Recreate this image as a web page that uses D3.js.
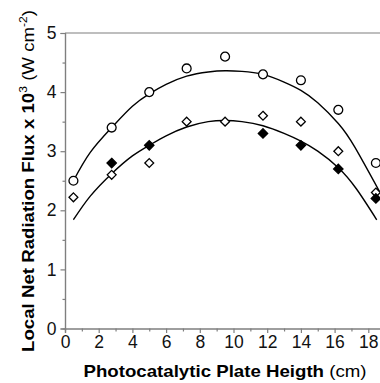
<!DOCTYPE html>
<html>
<head>
<meta charset="utf-8">
<script src="https://cdn.jsdelivr.net/npm/d3@7"></script>
<style>
  body { margin: 0; background: #fff; }
  svg { display: block; }
  text { font-family: "Liberation Sans", Arial, sans-serif; }
</style>
</head>
<body>
<div id="chart"></div>
<script>
// plate heights (cm) where the flux was measured
const heights = [0.5, 2.77, 5, 7.22, 9.5, 11.75, 14, 16.22, 18.45]

// open circles
const circleFlux = [2.5, 3.4, 4.0, 4.4, 4.6, 4.3, 4.2, 3.7, 2.8]
// open diamonds
const openDiamondFlux = [2.22, 2.6, 2.8, 3.5, 3.5, 3.6, 3.5, 3.0, 2.3]
// filled diamonds (only the visible ones)
const filledHeights = [2.77, 5, 11.75, 14, 16.22, 18.45]
const filledDiamondFlux = [2.8, 3.1, 3.3, 3.1, 2.7, 2.2]

// fitted curves
const upperFitX = [0.5, 1.5, 2.77, 4, 5, 6, 7.22, 8.5, 9.5, 10.5, 11.75, 13, 14, 15, 16.22, 17.2, 18.7]
const upperFitY = [2.5, 2.98, 3.4, 3.76, 3.97, 4.13, 4.27, 4.34, 4.36, 4.35, 4.3, 4.17, 4.03, 3.82, 3.47, 3.07, 2.3]
const lowerFitX = [0.5, 1.5, 2.77, 4, 5, 6, 7.22, 8.5, 9.5, 10.5, 11.75, 13, 14, 15, 16.22, 17.3, 18.5]
const lowerFitY = [1.84, 2.24, 2.62, 2.92, 3.1, 3.26, 3.41, 3.5, 3.52, 3.5, 3.43, 3.3, 3.17, 3.0, 2.72, 2.36, 1.84]

const xTicks = [0, 2, 4, 6, 8, 10, 12, 14, 16, 18]
const yTicks = [0, 1, 2, 3, 4, 5]

const width = 380
const height = 383
const marginLeft = 65, plotTop = 33, plotBottom = 328.5

const svg = d3.select("#chart")
    .append("svg")
    .attr("width", width)
    .attr("height", height)

const x = d3.scaleLinear().domain([0, 19]).range([marginLeft, marginLeft + 19 * 16.85])
const y = d3.scaleLinear().domain([0, 5]).range([plotBottom, plotTop])

const axisColor = "#7f7f7f"

// top frame line
svg.append("line")
    .attr("x1", x(0)).attr("x2", x(19))
    .attr("y1", y(5)).attr("y2", y(5))
    .attr("stroke", axisColor)
    .attr("stroke-width", 1.2)

// minor ticks
const xMinor = d3.axisBottom(x).tickValues(d3.range(1, 19, 2)).tickSize(3).tickFormat("")
const yMinor = d3.axisLeft(y).tickValues(d3.range(0.5, 5, 1)).tickSize(2.5).tickFormat("")

svg.append("g").attr("transform", `translate(0,${plotBottom})`).call(xMinor)
svg.append("g").attr("transform", `translate(${marginLeft},0)`).call(yMinor)

svg.append("g")
    .attr("transform", `translate(0,${plotBottom})`)
    .call(d3.axisBottom(x).tickValues(xTicks).tickSize(4.5).tickPadding(3).tickFormat(d3.format("d")))

svg.append("g")
    .attr("transform", `translate(${marginLeft},0)`)
    .call(d3.axisLeft(y).tickValues(yTicks).tickSize(4.5).tickPadding(4).tickFormat(d3.format("d")))

svg.selectAll(".domain").attr("stroke", axisColor).attr("stroke-width", 1.2)
svg.selectAll(".tick line").attr("stroke", axisColor).attr("stroke-width", 1.2)
svg.selectAll(".tick text")
    .attr("fill", "#111")
    .style("font-size", "17.5px")

// fitted curves
const line = d3.line()
    .x(d => x(d[0]))
    .y(d => y(d[1]))
    .curve(d3.curveNatural)

svg.append("path")
    .datum(d3.zip(upperFitX, upperFitY))
    .attr("d", line)
    .attr("fill", "none")
    .attr("stroke", "#000")
    .attr("stroke-width", 1.4)

svg.append("path")
    .datum(d3.zip(lowerFitX, lowerFitY))
    .attr("d", line)
    .attr("fill", "none")
    .attr("stroke", "#000")
    .attr("stroke-width", 1.4)

// markers
const circleSym = d3.symbol().type(d3.symbolCircle).size(62)
const openDiamondSym = d3.symbol().type(d3.symbolDiamond2).size(50)
const filledDiamondSym = d3.symbol().type(d3.symbolDiamond2).size(56)

svg.append("g").selectAll("path")
    .data(d3.zip(heights, circleFlux))
    .join("path")
    .attr("transform", d => `translate(${x(d[0])},${y(d[1])})`)
    .attr("d", circleSym)
    .attr("fill", "#fff")
    .attr("stroke", "#000")
    .attr("stroke-width", 1.3)

svg.append("g").selectAll("path")
    .data(d3.zip(heights, openDiamondFlux))
    .join("path")
    .attr("transform", d => `translate(${x(d[0])},${y(d[1])})`)
    .attr("d", openDiamondSym)
    .attr("fill", "#fff")
    .attr("stroke", "#000")
    .attr("stroke-width", 1.3)

svg.append("g").selectAll("path")
    .data(d3.zip(filledHeights, filledDiamondFlux))
    .join("path")
    .attr("transform", d => `translate(${x(d[0])},${y(d[1])})`)
    .attr("d", filledDiamondSym)
    .attr("fill", "#000")
    .attr("stroke", "#000")
    .attr("stroke-width", 1.3)

// axis titles
const xTitle = svg.append("text")
    .attr("x", 225)
    .attr("y", 376.5)
    .attr("text-anchor", "middle")
    .style("font-size", "17px")
    .attr("textLength", 283)
    .attr("lengthAdjust", "spacingAndGlyphs")
xTitle.append("tspan").style("font-weight", "bold").text("Photocatalytic Plate Heigth")
xTitle.append("tspan").text(" (cm)")

const yTitle = svg.append("text")
    .attr("transform", "translate(33.5,181) rotate(-90)")
    .attr("text-anchor", "middle")
    .style("font-size", "17px")
    .attr("textLength", 342)
    .attr("lengthAdjust", "spacingAndGlyphs")
yTitle.append("tspan").style("font-weight", "bold").text("Local Net Radiation Flux x 10")
yTitle.append("tspan").attr("dy", -7).style("font-size", "11px").text("3")
yTitle.append("tspan").attr("dy", 7).text(" (W cm")
yTitle.append("tspan").attr("dy", -7).style("font-size", "11px").text("-2")
yTitle.append("tspan").attr("dy", 7).text(")")
</script>
</body>
</html>
